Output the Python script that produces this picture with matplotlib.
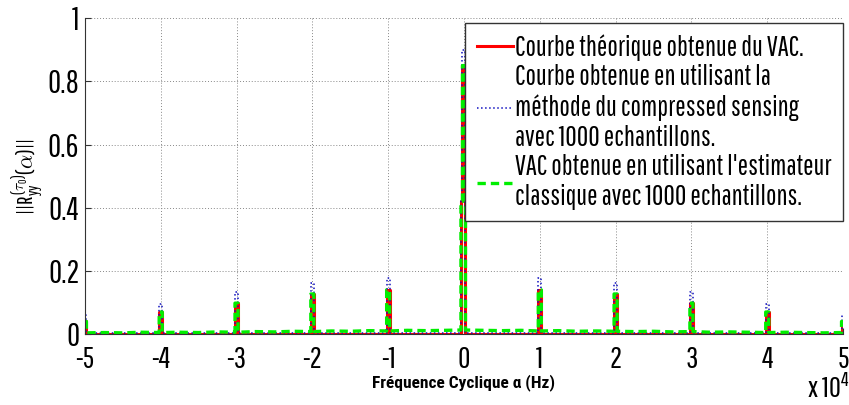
import numpy as np
import matplotlib.pyplot as plt

# peak positions (x 1e4 Hz) and heights
peak_pos = [-5, -4, -3, -2, -1, 0, 1, 2, 3, 4, 5]
peak_theo = [0.04, 0.07, 0.098, 0.127, 0.14, 0.85, 0.14, 0.127, 0.098, 0.07, 0.04]
peak_cs = [0.06, 0.095, 0.133, 0.161, 0.177, 0.90, 0.177, 0.161, 0.133, 0.095, 0.06]
peak_clas = [0.04, 0.07, 0.098, 0.127, 0.14, 0.85, 0.14, 0.127, 0.098, 0.07, 0.04]
# small step on the left side of the peaks (only the central one has one)
step_theo = [None, None, None, None, None, 0.42, None, None, None, None, None]

# noise floor of the classical estimate, every 0.25e4 Hz from -5e4 to 5e4
floor_x = [-5 + 0.25 * i for i in range(41)]
floor_clas = [0.004, 0.005, 0.004, 0.006, 0.005, 0.006, 0.005, 0.007, 0.006, 0.008,
              0.007, 0.009, 0.008, 0.010, 0.009, 0.011, 0.010, 0.012, 0.011, 0.012,
              0.013, 0.012, 0.011, 0.012, 0.010, 0.011, 0.009, 0.010, 0.009, 0.008,
              0.009, 0.007, 0.008, 0.006, 0.007, 0.006, 0.005, 0.006, 0.005, 0.004, 0.005]
floor_cs = [0.002] * 41
floor_theo = [0.0] * 41

labels = ['Courbe théorique obtenue du VAC.',
          'Courbe obtenue en utilisant la\nméthode du compressed sensing\navec 1000 echantillons.',
          "VAC obtenue en utilisant l'estimateur\nclassique avec 1000 echantillons."]

half_w = 0.02  # half width of a peak, in 1e4 Hz


def build(fx, fy, heights, steps=None):
    pts = list(zip(fx, fy))
    for i, (p, h) in enumerate(zip(peak_pos, heights)):
        base = np.interp(p, fx, fy)
        pts = [q for q in pts if abs(q[0] - p) > 2 * half_w]
        if steps is not None and steps[i] is not None:
            s = steps[i]
            pts += [(p - 2 * half_w, base), (p - 2 * half_w, s), (p - half_w, s)]
        else:
            pts += [(p - half_w, base)]
        pts += [(p - half_w, h), (p + half_w, h), (p + half_w, base)]
    pts.sort(key=lambda q: q[0])
    xs = np.array([q[0] for q in pts]) * 1e4
    ys = np.array([q[1] for q in pts])
    return xs, ys


plt.rcParams['font.family'] = ['Pathway Gothic One', 'Roboto Condensed', 'DejaVu Sans']
plt.rcParams['mathtext.fontset'] = 'custom'
plt.rcParams['mathtext.rm'] = 'Pathway Gothic One'
plt.rcParams['mathtext.it'] = 'Pathway Gothic One'

fig = plt.figure(figsize=(8.49, 4.05), dpi=100)
ax = fig.add_axes([0.1, 0.175, 0.893, 0.78])

x1, y1 = build(floor_x, floor_theo, peak_theo, step_theo)
x2, y2 = build(floor_x, floor_cs, peak_cs, step_theo)
x3, y3 = build(floor_x, floor_clas, peak_clas, step_theo)
ax.plot(x1, y1, color='#ff0000', lw=2.2, label=labels[0])
ax.plot(x2, y2, color='#1010c0', lw=1.1, ls=':', label=labels[1])
ax.plot(x3, y3, color='#00ee00', lw=2.4, ls='--', dashes=(2.5, 1.5), label=labels[2])

ax.set_xlim(-5e4, 5e4)
ax.set_ylim(0, 1)
ax.set_xticks([i * 1e4 for i in range(-5, 6)])
ax.set_xticklabels([str(i) for i in range(-5, 6)])
ax.set_yticks([0, 0.2, 0.4, 0.6, 0.8, 1])
ax.set_yticklabels(['0', '0.2', '0.4', '0.6', '0.8', '1'])
ax.tick_params(direction='in', length=4, color='#333333')
ax.tick_params(axis='x', pad=8, labelsize=22)
ax.tick_params(axis='y', pad=4, labelsize=23)
ax.grid(True, ls=(0, (1, 2)), color='#888888', lw=0.7)
ax.spines['top'].set_visible(False)
ax.spines['right'].set_visible(False)
ax.spines['left'].set_color('#333333')
ax.spines['bottom'].set_color('#333333')

ax.set_xlabel('Fréquence Cyclique α (Hz)', fontsize=12.5, fontweight='bold',
              family=['Roboto Condensed', 'DejaVu Sans'], labelpad=0)
ax.set_ylabel(r'$||R_{yy}^{(\tau_0)}(\alpha)||$', fontsize=16, labelpad=2)
fig.text(0.951, 0.004, r'x 10$^{4}$', fontsize=21, va='bottom')

leg = ax.legend(loc='upper right', bbox_to_anchor=(1.0, 0.984), fontsize=20,
                fancybox=False, framealpha=1, edgecolor='#333333',
                handlelength=1.3, handletextpad=0.1, labelspacing=0.1,
                borderpad=0.4, borderaxespad=0.0)
leg.get_frame().set_linewidth(1)
for t in leg.get_texts():
    t.set_linespacing(1.2)

fig.savefig('out.png', dpi=100)
